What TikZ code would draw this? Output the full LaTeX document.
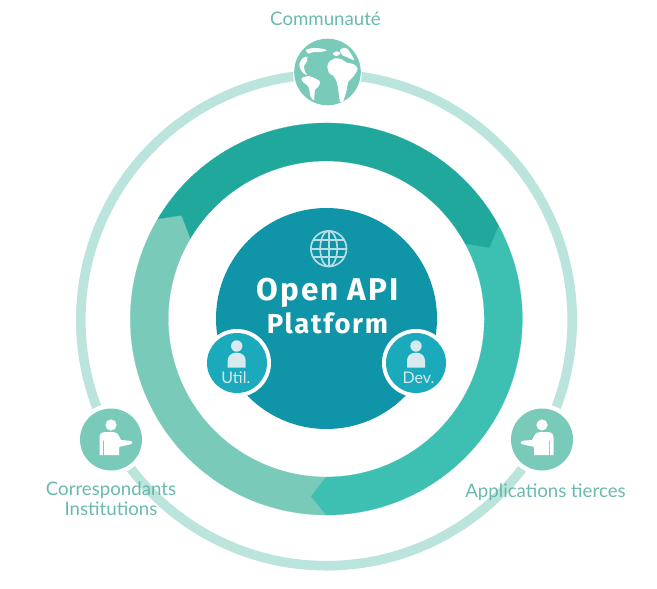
\documentclass[tikz,border=0pt]{standalone}
\usepackage{fontspec}
\setmainfont{Lato}
\newfontfamily\titlefont[LetterSpace=6]{Fira Sans}
\definecolor{ringdark}{HTML}{21A89C}
\definecolor{ringteal}{HTML}{3DBFB1}
\definecolor{ringlight}{HTML}{7ACABA}
\definecolor{orbit}{HTML}{BBE5DC}
\definecolor{core}{HTML}{1094A8}
\definecolor{badge}{HTML}{1BA9BC}
\definecolor{pale}{HTML}{D6EAF0}
\definecolor{caption}{HTML}{5DB3A6}
\tikzset{
  every pic/.style={yscale=-1},
  caption/.style={text=caption,text opacity=.92,inner sep=0pt,anchor=base,align=center,
    font=\fontsize{14pt}{15pt}\selectfont},
  headline/.style={text=white,inner sep=0pt,anchor=base},
  badgetext/.style={text=pale,inner sep=0pt,anchor=base,font=\fontsize{12pt}{14pt}\selectfont},
  % ring segment: tail notch at angle #2, arrow point just past angle #3
  pics/segment/.style n args={3}{code={
    \fill[#1,draw=#1,line width=.15pt]
      (#2:196) arc[start angle=#2,end angle=#3,radius=196]
      -- ({#3+4.9}:178) -- (#3:158)
      arc[start angle=#3,end angle=#2,radius=158]
      -- ({#2+4.9}:178) -- cycle;
  }},
  % figure with one forearm held out towards +x
  pics/guide/.style={code={
    \fill[white] (0,-14.5) circle[radius=5.6];
    \fill[white]
      (-11.5,15.5) -- (-11.5,-2) .. controls (-11.5,-6) and (-9,-7.5) .. (-5,-7.5)
      -- (2,-7.5) .. controls (5,-7.5) and (7,-6) .. (8,-3.5)
      -- (10,0.5) -- (18.5,1.2) .. controls (22,1.5) and (22,5) .. (18.5,5)
      -- (10.5,6.8) .. controls (9,7) and (8,7) .. (8,8.5)
      -- (8,15.5) -- (-7,15.5) -- (-7,1) -- (-8.2,1) -- (-8.2,15.5) -- cycle;
  }},
  % small bust used inside the badges
  pics/bust/.style={code={
    \fill[pale] (0,-17) circle[radius=5.7];
    \fill[pale] (-9,4.7) -- (-9,-2.5) .. controls (-9,-7.5) and (-5,-10.3) .. (0,-10.3)
      .. controls (5,-10.3) and (9,-7.5) .. (9,-2.5) -- (9,4.7) -- cycle;
  }},
  land/.style={smooth cycle,tension=.5}
}
\begin{document}
\begin{tikzpicture}[x=.75pt,y=.75pt,yscale=-1]
\useasboundingbox (0,0) rectangle (657,589);
\coordinate (hub) at (326.3,319);

% outer orbit
\draw[orbit,line width=7.2pt] (326.5,320) circle[radius=245.7];

% three chasing arrows of the inner ring
\pic at (hub) {segment={ringlight}{90}{210.7}};
\pic at (hub) {segment={ringteal}{331.5}{450}};
\pic at (hub) {segment={ringdark}{210.7}{331.5}};

% central disc
\fill[core] (326.5,318.5) circle[radius=110.5];

% globe emblem in the disc
\begin{scope}[shift={(328.7,248.7)},pale!85!core,line width=1.25pt]
  \draw (0,0) circle[radius=17.8];
  \draw (0,0) ellipse[x radius=8.5,y radius=17.8];
  \draw (0,-17.8) -- (0,17.8);
  \draw (-17.8,0) -- (17.8,0);
  \draw (-15.5,-8.6) -- (15.5,-8.6);
  \draw (-15.5,8.6) -- (15.5,8.6);
\end{scope}

\node[headline,font=\titlefont\bfseries\fontsize{23.6pt}{28pt}\selectfont] (title1) at (327.5,300) {Open API};
\node[headline,font=\titlefont\bfseries\fontsize{20.6pt}{26pt}\selectfont] (title2) at (327.5,333) {Platform};

% badges on the disc
\fill[white] (237,363) circle[radius=34];
\fill[badge] (237,363) circle[radius=30];
\pic at (236.7,363) {bust};
\node[badgetext] (util) at (235.8,383) {Util.};
\fill[white] (416,363) circle[radius=34];
\fill[badge] (416,363) circle[radius=30];
\pic at (416,363) {bust};
\node[badgetext] (dev) at (418.5,383) {Dev.};

% earth on top of the orbit
\fill[white] (327.5,72) circle[radius=34.5];
\fill[ringlight] (327.5,72) circle[radius=33.3];
\begin{scope}[shift={(290,40)},x=.25pt,y=.25pt]
  \fill[white] plot[land] coordinates {(112,80) (118,65) (135,55) (155,58) (170,68) (190,72) (203,86) (190,110) (175,125) (170,150) (160,182) (150,185) (145,150) (140,125) (130,107) (118,100)};
  \fill[white] plot[land] coordinates {(128,42) (140,34) (152,40) (140,48)};
  \fill[white] plot[land] coordinates {(150,30) (168,24) (182,40) (192,60) (172,52) (158,46)};
  \fill[white] plot[land] coordinates {(35,115) (55,108) (75,115) (90,125) (85,140) (75,150) (72,180) (62,170) (55,140) (38,125)};
  \fill[white] plot[land] coordinates {(48,30) (70,24) (95,26) (110,31) (90,36) (70,36) (55,41)};
  \fill[white] plot[land] coordinates {(28,72) (38,55) (52,50) (50,65) (42,78) (45,95) (52,105) (40,100) (32,88)};
\end{scope}

% people on the orbit
\fill[white] (111,439.5) circle[radius=35.5];
\fill[ringlight] (111,439.5) circle[radius=31];
\pic at (111,439.5) {guide};
\fill[white] (542,439.5) circle[radius=35.5];
\fill[ringlight] (542,439.5) circle[radius=31];
\pic[xscale=-1] at (542,439.5) {guide};

% captions
\node[caption] (community) at (325.5,26) {Communauté};
\node[caption] (partners1) at (111,495) {Correspondants};
\node[caption] (partners2) at (111,515) {Institutions};
\node[caption] (apps) at (545.5,497) {Applications tierces};
\end{tikzpicture}
\end{document}
